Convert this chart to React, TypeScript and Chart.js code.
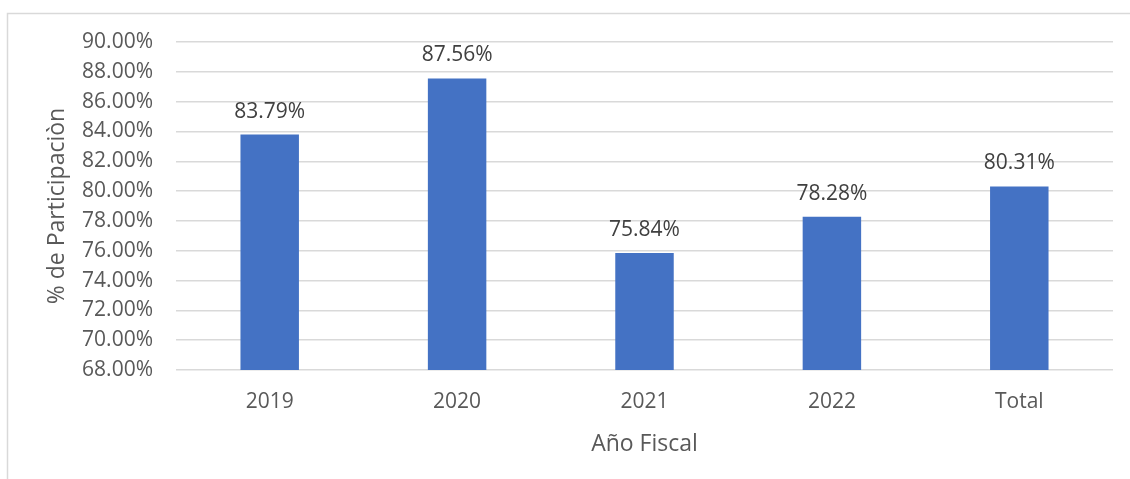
import React, { useEffect, useRef } from "react";
import { Chart, registerables } from "chart.js";

Chart.register(...registerables);

const categories = ["2019", "2020", "2021", "2022", "Total"];
const participation = [83.79, 87.56, 75.84, 78.28, 80.31];
const yMin = 68;
const yMax = 90;
const yStep = 2;
const xTitle = "Año Fiscal";
const yTitle = "% de Participaciòn";

const FONT = "'Open Sans', 'Noto Sans', sans-serif";

const borderPlugin = {
  id: "frameBorder",
  beforeDraw(chart: any) {
    const ctx = chart.ctx;
    ctx.save();
    ctx.strokeStyle = "#d9d9d9";
    ctx.lineWidth = 1.5;
    ctx.beginPath();
    ctx.moveTo(7.5, chart.height);
    ctx.lineTo(7.5, 13.5);
    ctx.lineTo(chart.width, 13.5);
    ctx.stroke();
    ctx.restore();
  },
};

const labelPlugin = {
  id: "barLabels",
  afterDatasetsDraw(chart: any) {
    const ctx = chart.ctx;
    const meta = chart.getDatasetMeta(0);
    ctx.save();
    ctx.font = `21px ${FONT}`;
    ctx.fillStyle = "#404040";
    ctx.textAlign = "center";
    ctx.textBaseline = "middle";
    meta.data.forEach((bar: any, i: number) => {
      const v = chart.data.datasets[0].data[i] as number;
      ctx.fillText(v.toFixed(2) + "%", bar.x, bar.y - 23);
    });
    ctx.restore();
  },
};

export default function App() {
  const ref = useRef<HTMLCanvasElement>(null);
  useEffect(() => {
    if (!ref.current) return;
    const chart = new Chart(ref.current, {
      type: "bar",
      data: {
        labels: categories,
        datasets: [
          {
            data: participation,
            backgroundColor: "#4472C4",
            categoryPercentage: 1,
            barPercentage: 0.312,
          },
        ],
      },
      plugins: [borderPlugin, labelPlugin],
      options: {
        animation: false,
        responsive: false,
        maintainAspectRatio: false,
        layout: { padding: { top: 42, right: 17, left: 0, bottom: 0 } },
        plugins: { legend: { display: false }, tooltip: { enabled: false } },
        scales: {
          x: {
            grid: { display: false, drawTicks: false },
            border: { display: false },
            ticks: { color: "#595959", font: { family: FONT, size: 21 }, padding: 19 },
            title: {
              display: true,
              text: xTitle,
              color: "#595959",
              font: { family: FONT, size: 23 },
              padding: { top: 0, bottom: 21 },
            },
            afterFit(scale: any) {
              scale.height = 109;
            },
          },
          y: {
            min: yMin,
            max: yMax,
            grid: { color: "#d9d9d9", lineWidth: 1.5, drawTicks: false },
            border: { display: false },
            ticks: {
              stepSize: yStep,
              color: "#595959",
              font: { family: FONT, size: 21 },
              padding: 23,
              callback: (v: any) => Number(v).toFixed(2) + "%",
            },
            title: {
              display: true,
              text: yTitle,
              color: "#595959",
              font: { family: FONT, size: 23 },
              padding: { top: 44, bottom: 0 },
            },
            afterFit(scale: any) {
              scale.width = 176;
            },
          },
        },
      },
    });
    return () => chart.destroy();
  }, []);
  return (
    <div style={{ position: "fixed", left: 0, top: 0, width: 1130, height: 479, background: "#fff" }}>
      <canvas ref={ref} width={1130} height={479} style={{ width: 1130, height: 479 }} />
    </div>
  );
}
